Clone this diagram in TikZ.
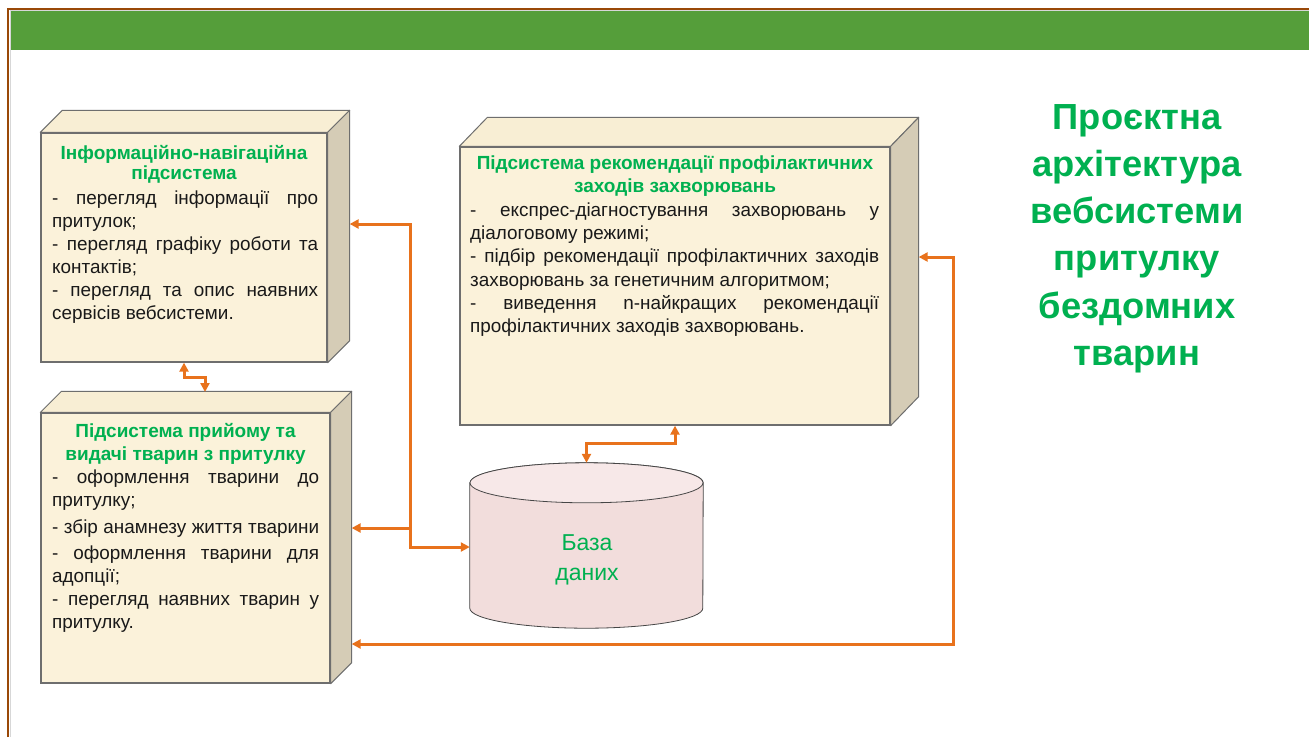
\documentclass[tikz,border=0pt]{standalone}
\usepackage{fontspec}
\setmainfont{Liberation Sans}
\usetikzlibrary{arrows.meta,calc}

\definecolor{barGreen}{RGB}{85,158,58}
\definecolor{frameBrown}{RGB}{153,72,8}
\definecolor{frameGray}{RGB}{215,215,215}
\definecolor{titleGreen}{RGB}{0,176,80}
\definecolor{linkOrange}{RGB}{232,114,28}
\definecolor{faceFront}{RGB}{251,242,218}
\definecolor{faceTop}{RGB}{248,238,212}
\definecolor{faceSide}{RGB}{213,204,182}
\definecolor{edgeGray}{RGB}{110,110,110}
\definecolor{dbBody}{RGB}{242,221,220}
\definecolor{dbTop}{RGB}{247,232,232}
\definecolor{dbEdge}{RGB}{70,70,70}

\tikzset{
  front/.style={draw=edgeGray, line width=1.3pt, fill=faceFront, inner sep=0pt},
  topface/.style={draw=edgeGray, line width=1pt, fill=faceTop, line join=round},
  sideface/.style={draw=edgeGray, line width=1pt, fill=faceSide, line join=round},
  boxtitle/.style={inner sep=0pt, anchor=north, align=center, text=titleGreen,
    font=\fontsize{19}{21}\selectfont\bfseries},
  boxbody/.style={inner sep=0pt, anchor=north west, align=left, text=black!90,
    font=\fontsize{18.9}{23.1}\selectfont},
  dbtext/.style={inner sep=0pt, anchor=north, align=center, text=titleGreen,
    font=\fontsize{23}{30}\selectfont},
  headline/.style={inner sep=0pt, anchor=north, align=center, text=titleGreen,
    font=\fontsize{36.3}{47.1}\selectfont\bfseries},
  link/.style={draw=linkOrange, line width=3pt},
}

% top and right faces of a solid block whose front face is node #1
\newcommand\solidfaces[3]{%
  \path[topface] (#1.north west) -- ++(#2,-#3) -- ($(#1.north east)+(#2,-#3)$)
    -- (#1.north east) -- cycle;
  \path[sideface] (#1.north east) -- ++(#2,-#3) -- ($(#1.south east)+(#2,-#3)$)
    -- (#1.south east) -- cycle;
}
% the font's own stretchable word spaces
\newcommand\natspaces{\spaceskip=0pt\xspaceskip=0pt\relax}
% a text row spread over the full column width
\newcommand\fullline[2][266pt]{\makebox[#1][s]{\natspaces#2}}

\begin{document}
\begin{tikzpicture}[x=1pt, y=-1pt, >={Triangle[length=9pt,width=9pt]}]
\fill[white] (0,0) rectangle (1309,737);
\useasboundingbox (0,0) rectangle (1309,737);

% slide frame and header bar
\draw[frameGray, line width=1pt] (10.5,737) -- (10.5,10.5) -- (1309,10.5);
\draw[frameBrown, line width=2pt] (8,737) -- (8,9) -- (1309,9);
\fill[barGreen] (11,11) rectangle (1309,50);

% blocks
\node[front, minimum width=286pt, minimum height=229pt] (b1) at (184,247.5) {};
\solidfaces{b1}{22}{22}
\node[front, minimum width=289pt, minimum height=270pt] (b2) at (185.5,548) {};
\solidfaces{b2}{21}{21}
\node[front, minimum width=430pt, minimum height=278pt] (b3) at (675,286) {};
\solidfaces{b3}{28}{29}

% database cylinder
\node[inner sep=0pt, minimum width=233pt, minimum height=165pt] (db) at (586.5,545.5) {};
\path[fill=dbBody, draw=dbEdge, line width=0.8pt]
  ([yshift=-20pt]db.north west) -- ([yshift=20pt]db.south west)
  arc[start angle=180, end angle=360, x radius=116.5pt, y radius=20pt]
  -- ([yshift=-20pt]db.north east)
  arc[start angle=0, end angle=180, x radius=116.5pt, y radius=20pt] -- cycle;
\path[fill=dbTop, draw=dbEdge, line width=0.8pt]
  ([yshift=-20pt]db.north) ellipse[x radius=116.5pt, y radius=20pt];
\node[dbtext] (dblabel) at (587,534) {База\\даних};

% block texts
\node[boxtitle] (b1title) at (184,145) {Інформаційно-навігаційна\\[-0.5pt]підсистема};
\node[boxbody, text width=266pt] (b1body) at (52,190.3) {\natspaces
\fullline{- перегляд інформації про}\\
притулок;\\
\fullline{- перегляд графіку роботи та}\\
контактів;\\
\fullline{- перегляд та опис наявних}\\
сервісів вебсистеми.};

\node[boxtitle] (b2title) at (185.5,423.3) {Підсистема прийому та\\[1.5pt]видачі тварин з притулку};
\node[boxbody, text width=267pt] (b2body) at (52,469.8) {\natspaces
\fullline[267pt]{- оформлення тварини до}\\
притулку;\\[4pt]
\fullline[267pt]{- збір анамнезу життя тварини}\\[2pt]
\fullline[267pt]{- оформлення тварини для}\\
адопції;\\
\fullline[267pt]{- перегляд наявних тварин у}\\
притулку.};

\node[boxtitle] (b3title) at (675,156) {Підсистема рекомендації профілактичних\\[2pt]заходів захворювань};
\node[boxbody, text width=409pt] (b3body) at (470,202.8) {\natspaces
\fullline[409pt]{- експрес-діагностування захворювань у}\\
діалоговому режимі;\\
\fullline[409pt]{- підбір рекомендації профілактичних заходів}\\
захворювань за генетичним алгоритмом;\\
\fullline[409pt]{- виведення n-найкращих рекомендації}\\
профілактичних заходів захворювань.};

% slide heading
\node[headline] (heading) at (1137,104.5)
  {Проєктна\\архітектура\\вебсистеми\\притулку\\бездомних\\тварин};

% connectors
\coordinate (j1) at (410,224);
\coordinate (j2) at (410,547);
\coordinate (j3) at (410,528);
\coordinate (k1) at (953,257);
\coordinate (k2) at (953,644);
\coordinate (b2top) at (205,392);

\draw[link,<->] (b1.south) -- ++(0,15) -| (b2top);
\draw[link,<->] ([xshift=22pt]b1.east |- j1) -- (j1) -- (j2) -- (db.west |- j2);
\draw[link,->] (j3) -- ([xshift=21pt]b2.east |- j3);
\draw[link,<->] (db.north) -- ++(0,-19) -| (b3.south);
\draw[link,<->] ([xshift=28pt]b3.east |- k1) -- (k1) -- (k2) -- ([xshift=21pt]b2.east |- k2);
\end{tikzpicture}
\end{document}
